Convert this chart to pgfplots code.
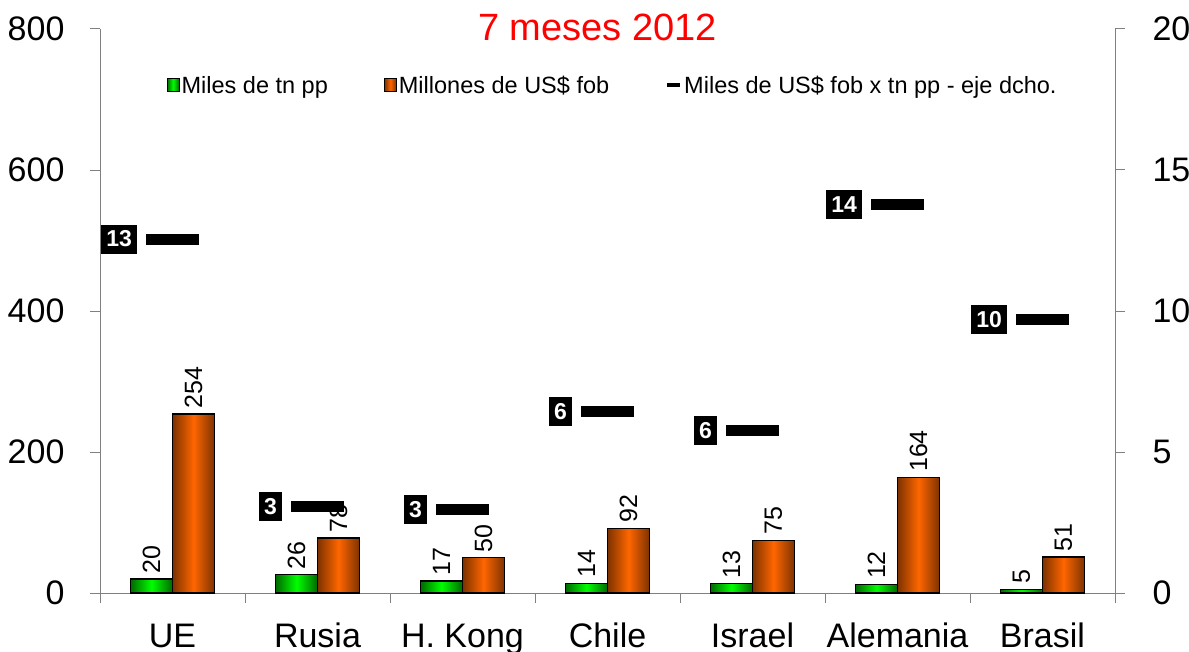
\documentclass[border=0pt]{standalone}
\usepackage{fontspec}
\setmainfont{Liberation Sans}
\usepackage{pgfplots}
\usepackage{pgfplotstable}
\pgfplotsset{compat=1.18}
\usetikzlibrary{calc}

\definecolor{verde}{RGB}{0,255,0}
\definecolor{verdeosc}{RGB}{0,105,0}
\definecolor{naranja}{RGB}{255,102,0}
\definecolor{naranjaosc}{RGB}{125,50,0}
\definecolor{ejegris}{RGB}{128,128,128}

\pgfplotsset{
    /pgf/number format/assume math mode=true,
    barra/.style={ybar, bar width=42pt, draw=black, line width=1.2pt, forget plot,
        nodes near coords},
    barra verde/.style={barra, bar shift=-21pt,
        left color=verdeosc, right color=verdeosc, middle color=verde,
        every node near coord/.style={xshift=-21pt, rotate=90, anchor=west,
            font=\fontsize{25}{28}\selectfont, inner sep=5pt}},
    barra naranja/.style={barra, bar shift=21pt,
        left color=naranjaosc, right color=naranjaosc, middle color=naranja,
        every node near coord/.style={xshift=21pt, rotate=90, anchor=west,
            font=\fontsize{25}{28}\selectfont, inner sep=5pt}},
    leg cuadro/.style={legend image code/.code={%
        \draw[##1, line width=1pt] (0pt,-6pt) rectangle (12pt,7pt);}},
    leg raya/.style={legend image code/.code={%
        \draw[black, line width=4pt] (0pt,0.5pt) -- (13pt,0.5pt);}},
}

% x tn usd ratio lab
\pgfplotstableread{
x tn usd ratio lab
0 20 254 12.55 13
1 26 78 3.07 3
2 17 50 2.97 3
3 14 92 6.45 6
4 13 75 5.77 6
5 12 164 13.78 14
6 5 51 9.70 10
}\datos

\begin{document}
\begin{tikzpicture}
\begin{axis}[
    scale only axis,
    width=1015pt, height=564pt,
    xmin=-0.5, xmax=6.5,
    ymin=0, ymax=800,
    enlarge x limits=false,
    ytick={0,200,...,800},
    xtick={-0.5,0.5,...,6.5},
    x tick label as interval,
    xticklabels={UE,Rusia,H. Kong,Chile,Israel,Alemania,Brasil},
    axis x line*=bottom,
    axis y line*=left,
    axis line style={ejegris, line width=1pt, -},
    tick align=outside,
    major tick length=10pt,
    tick style={ejegris, line width=1pt},
    ticklabel style={font=\fontsize{34}{40}\selectfont},
    yticklabel style={xshift=-22pt},
    xticklabel style={anchor=base, yshift=-44pt},
    title={7 meses 2012},
    title style={text=red, font=\fontsize{38}{42}\selectfont,
        at={(0.5,1)}, anchor=base, yshift=-17pt, xshift=-10pt},
    legend style={at={(0.505,0.90)}, anchor=center, draw=none, fill=none,
        legend columns=-1, font=\fontsize{23.5}{26}\selectfont,
        /tikz/every even column/.append style={column sep=54pt},
        nodes={inner xsep=2pt}},
]
% one path per bar, so that every bar gets its own shading
\pgfplotsinvokeforeach{0,...,6}{
    \addplot[barra verde] table[x=x, y=tn,
        restrict expr to domain={\coordindex}{#1:#1}] {\datos};
    \addplot[barra naranja] table[x=x, y=usd,
        restrict expr to domain={\coordindex}{#1:#1}] {\datos};
}
\addlegendimage{left color=verdeosc, right color=verdeosc, middle color=verde,
    draw=black, leg cuadro}
\addlegendentry{Miles de tn pp}
\addlegendimage{left color=naranjaosc, right color=naranjaosc, middle color=naranja,
    draw=black, leg cuadro}
\addlegendentry{Millones de US\$ fob}
\addlegendimage{leg raya}
\addlegendentry{Miles de US\$ fob x tn pp - eje dcho.}
\coordinate (sw) at (rel axis cs:0,0);
\coordinate (ne) at (rel axis cs:1,1);
\end{axis}
\begin{axis}[
    scale only axis,
    width=1015pt, height=564pt,
    xmin=-0.5, xmax=6.5,
    ymin=0, ymax=20,
    ytick={0,5,...,20},
    axis y line*=right,
    axis x line=none,
    axis line style={ejegris, line width=1pt, -},
    tick align=outside,
    major tick length=10pt,
    tick style={ejegris, line width=1pt},
    ticklabel style={font=\fontsize{34}{40}\selectfont},
    yticklabel style={xshift=24pt},
]
\addplot[only marks, mark=-, mark size=26.5pt,
    mark options={line width=11pt, black},
    nodes near coords, point meta=explicit symbolic,
    every node near coord/.append style={anchor=east, xshift=-30pt,
        fill=black, text=white, font=\fontsize{23}{26}\selectfont\bfseries,
        inner xsep=5pt, inner ysep=3pt, minimum height=29pt}]
    table[x=x, y=ratio, meta=lab] {\datos};
\end{axis}
\pgfresetboundingbox
\path[use as bounding box] ($(sw)+(-100pt,-58pt)$) rectangle ($(ne)+(74pt,29pt)$);
\end{tikzpicture}
\end{document}
